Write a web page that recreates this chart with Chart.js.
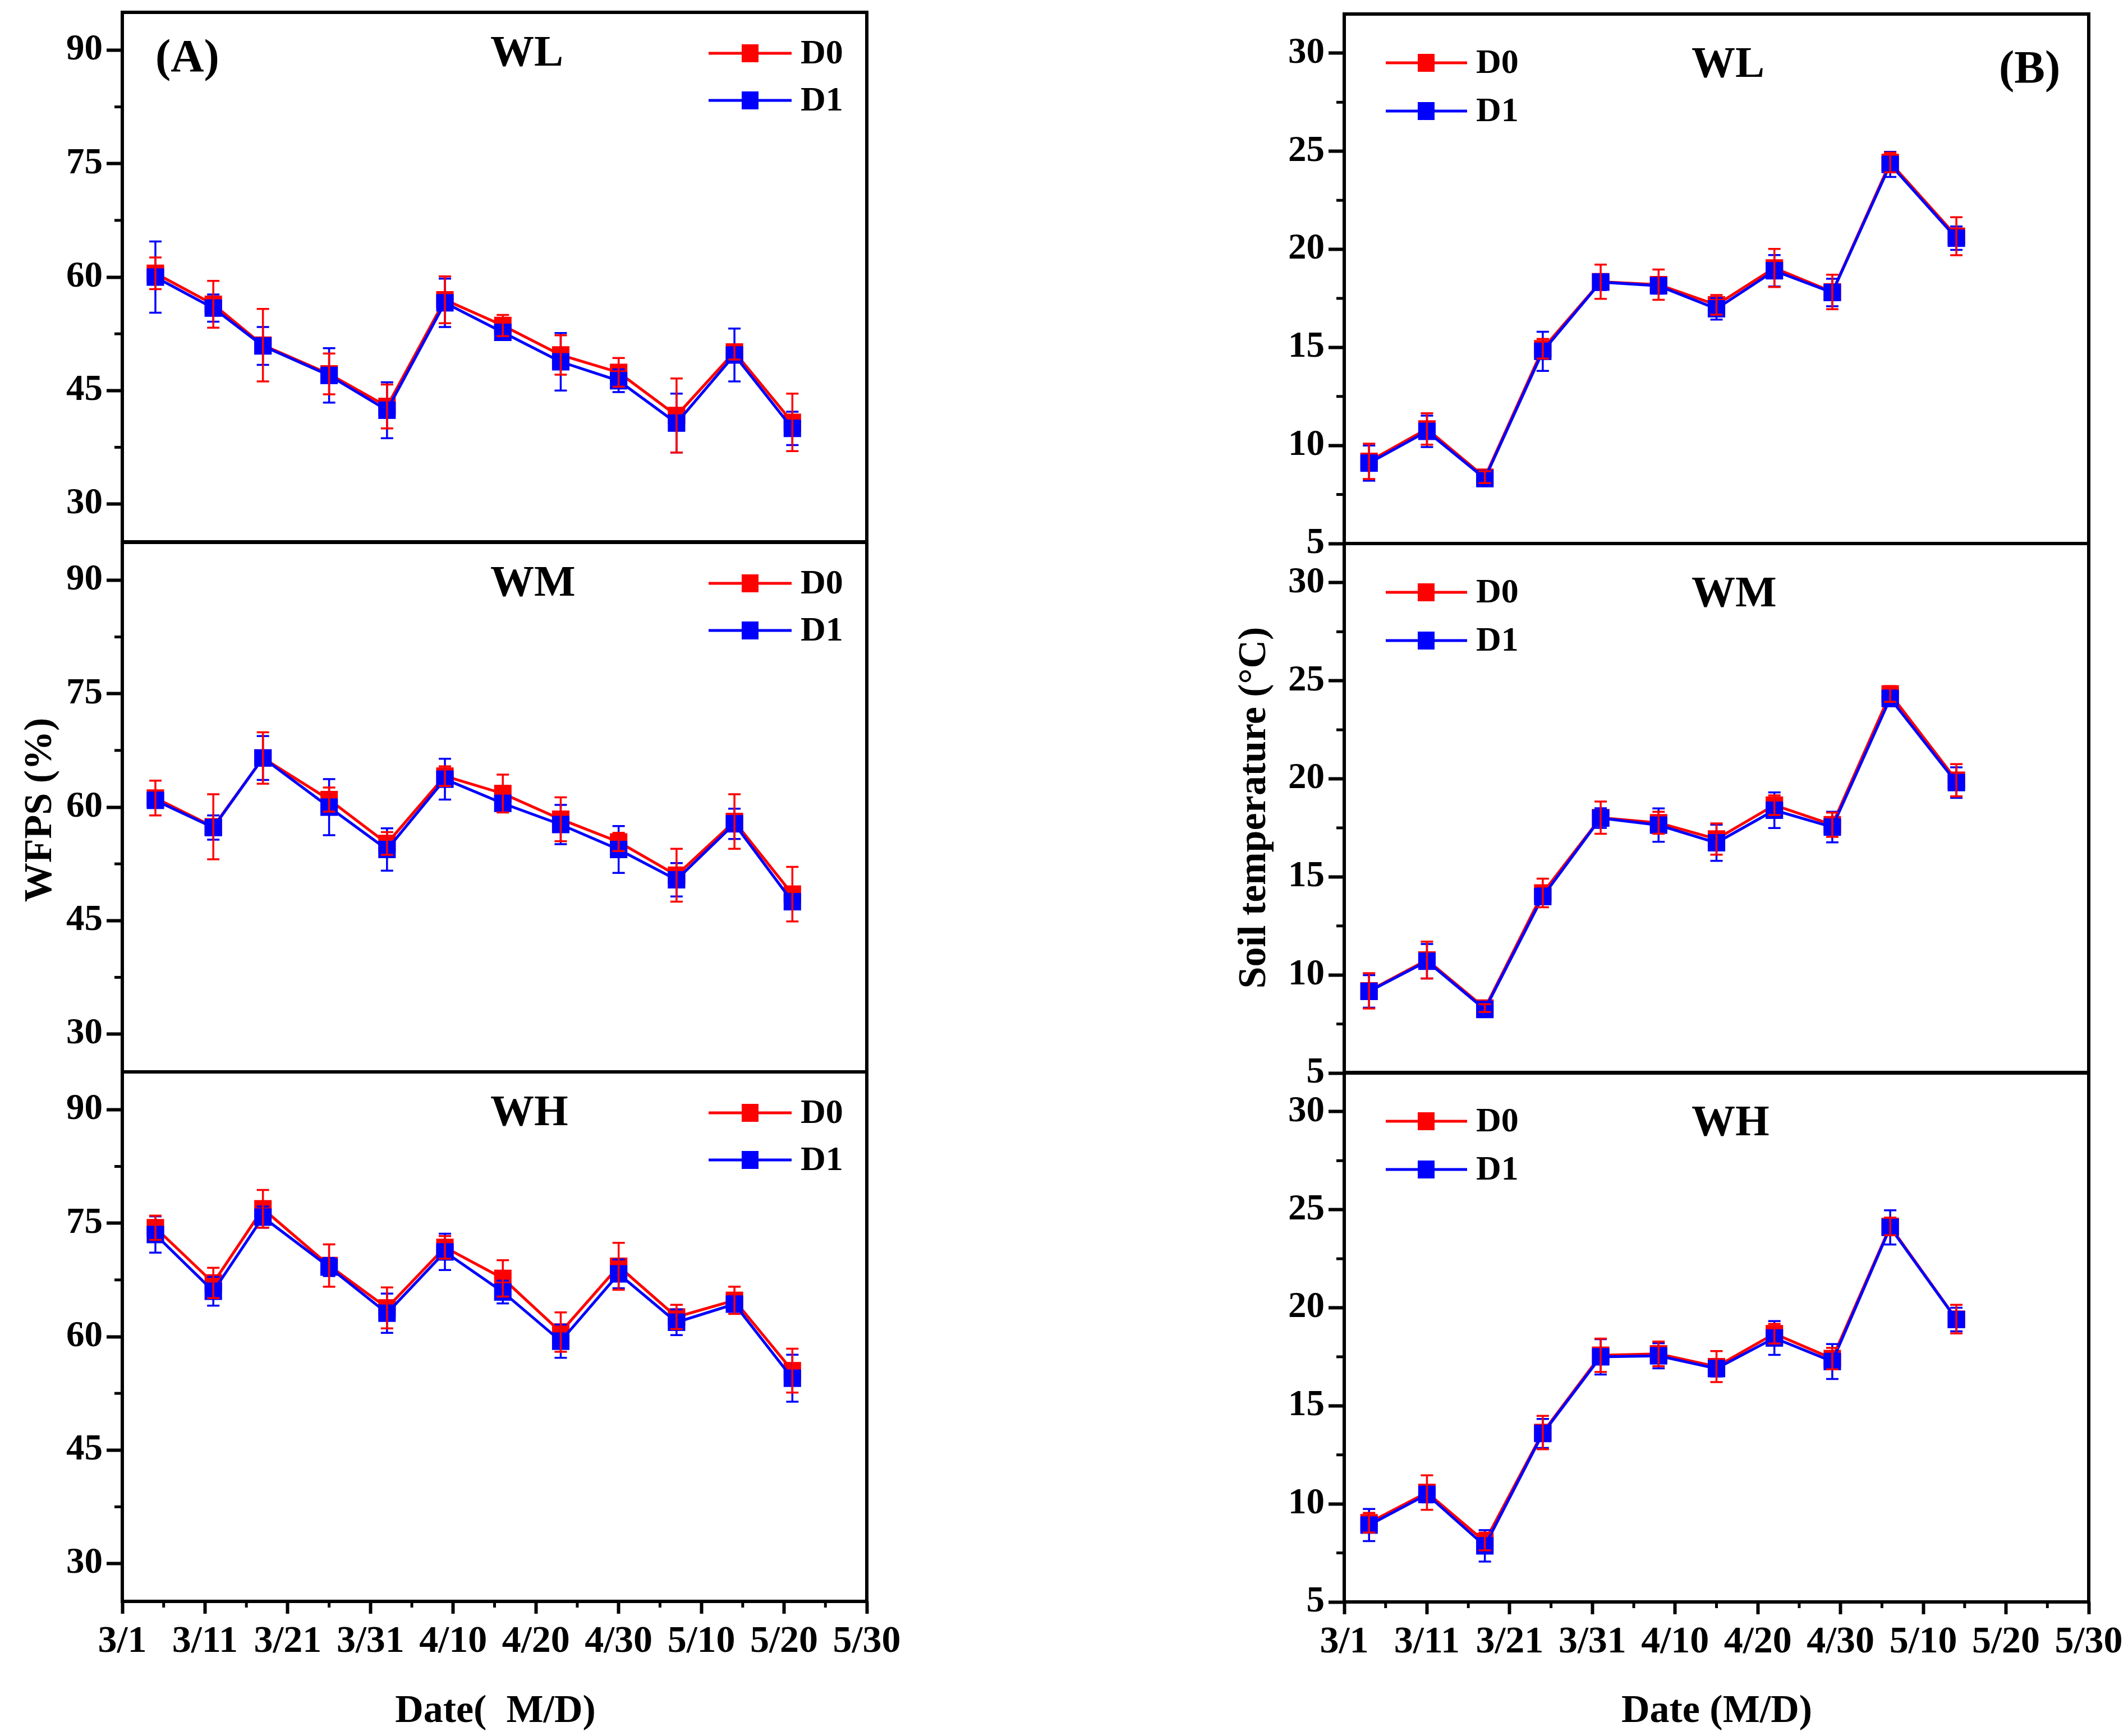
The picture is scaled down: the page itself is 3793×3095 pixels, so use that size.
<!DOCTYPE html>
<html lang="en">
<head>
  <meta charset="UTF-8" />
  <title>WFPS and soil temperature</title>
  <script src="https://cdn.jsdelivr.net/npm/chart.js"></script>
  <style>
    body { margin: 0; background: #fff; }
    #page {
      position: relative;
      width: 3793px;
      height: 3095px;
      overflow: hidden;
      background: #fff;
      font-family: 'Liberation Serif', 'Times New Roman', serif;
      font-weight: bold;
      color: #000;
    }
    canvas { position: absolute; }
    .label {
      position: absolute;
      white-space: pre;
      font-size: 70px;
      line-height: 1;
      transform: translate(-50%, -50%);
    }
    .vlabel { transform: translate(-50%, -50%) rotate(-90deg); }
  </style>
</head>
<body>
  <div id="page">
    <div class="label vlabel" style="left:68px; top:1444px">WFPS (%)</div>
    <div class="label vlabel" style="left:2232px; top:1440px">Soil temperature (°C)</div>
    <div class="label" style="left:883px; top:3047px">Date(  M/D)</div>
    <div class="label" style="left:3060px; top:3047px">Date (M/D)</div>
  </div>

  <script>
    // x axis: days after 3/1
    const xTickDays = [0, 10, 20, 30, 40, 50, 60, 70, 80, 90];
    const xTickLabels = ['3/1', '3/11', '3/21', '3/31', '4/10', '4/20', '4/30', '5/10', '5/20', '5/30'];
    const wfpsTicks = [30, 45, 60, 75, 90];
    const tempTicks = [5, 10, 15, 20, 25, 30];

    // (A) WFPS sampling days
    const wfpsDays = [4, 11, 17, 25, 32, 39, 46, 53, 60, 67, 74, 81];

    const wfpsWL_D0 = [60.5, 56.4, 51.0, 47.2, 42.9, 57.0, 53.6, 49.7, 47.4, 41.7, 50.1, 40.8];
    const wfpsWL_D0err = [2.1, 3.1, 4.8, 2.7, 2.9, 3.1, 1.4, 2.6, 1.9, 4.9, 1.0, 3.8];
    const wfpsWL_D1 = [60.0, 55.9, 50.9, 47.0, 42.4, 56.6, 52.7, 48.8, 46.3, 40.7, 49.7, 40.0];
    const wfpsWL_D1err = [4.7, 1.8, 2.5, 3.6, 3.7, 3.2, 0.8, 3.8, 1.5, 3.9, 3.5, 2.2];

    const wfpsWM_D0 = [61.2, 57.4, 66.5, 61.0, 55.2, 64.1, 61.8, 58.4, 55.4, 51.0, 58.1, 48.5];
    const wfpsWM_D0err = [2.3, 4.3, 3.4, 1.6, 1.5, 1.3, 2.5, 2.9, 1.2, 3.5, 3.6, 3.6];
    const wfpsWM_D1 = [60.9, 57.3, 66.5, 60.0, 54.4, 63.7, 60.5, 57.7, 54.4, 50.4, 57.8, 47.5];
    const wfpsWM_D1err = [1.0, 1.6, 2.9, 3.7, 2.8, 2.7, 0.5, 2.6, 3.1, 2.2, 2.0, 1.0];

    const wfpsWH_D0 = [74.4, 67.1, 76.9, 69.4, 63.8, 71.8, 67.7, 60.6, 69.3, 62.6, 64.8, 55.5];
    const wfpsWH_D0err = [1.6, 2.0, 2.5, 2.8, 2.7, 1.5, 2.4, 2.6, 3.1, 1.6, 1.8, 2.9];
    const wfpsWH_D1 = [73.5, 66.0, 75.8, 69.2, 63.1, 71.2, 65.9, 59.4, 68.3, 61.9, 64.3, 54.5];
    const wfpsWH_D1err = [2.4, 1.9, 1.4, 1.2, 2.6, 2.4, 1.5, 2.2, 1.9, 1.7, 1.0, 3.1];

    // (B) soil temperature sampling days
    const tempDays = [3, 10, 17, 24, 31, 38, 45, 52, 59, 66, 74];

    const tempWL_D0 = [9.19, 10.84, 8.38, 14.93, 18.35, 18.2, 17.17, 19.05, 17.83, 24.43, 20.67];
    const tempWL_D0err = [0.9, 0.8, 0.3, 0.5, 0.87, 0.77, 0.5, 0.97, 0.88, 0.5, 0.97];
    const tempWL_D1 = [9.1, 10.72, 8.31, 14.8, 18.33, 18.14, 16.97, 18.91, 17.8, 24.33, 20.57];
    const tempWL_D1err = [0.9, 0.8, 0.3, 1.0, 0.4, 0.4, 0.55, 0.8, 0.7, 0.64, 0.6];

    const tempWM_D0 = [9.19, 10.76, 8.31, 14.18, 18.02, 17.76, 16.93, 18.66, 17.66, 24.33, 19.93];
    const tempWM_D0err = [0.9, 0.94, 0.2, 0.73, 0.82, 0.56, 0.8, 0.5, 0.62, 0.4, 0.82];
    const tempWM_D1 = [9.16, 10.7, 8.24, 14.0, 18.0, 17.64, 16.74, 18.4, 17.54, 24.1, 19.81];
    const tempWM_D1err = [0.83, 0.88, 0.2, 0.4, 0.5, 0.85, 0.92, 0.91, 0.78, 0.4, 0.78];

    const tempWH_D0 = [9.04, 10.58, 8.08, 13.64, 17.58, 17.65, 17.0, 18.68, 17.41, 24.15, 19.42];
    const tempWH_D0err = [0.5, 0.88, 0.45, 0.85, 0.85, 0.63, 0.79, 0.5, 0.55, 0.45, 0.73];
    const tempWH_D1 = [8.92, 10.48, 7.86, 13.59, 17.5, 17.55, 16.9, 18.46, 17.26, 24.1, 19.4];
    const tempWH_D1err = [0.82, 0.4, 0.8, 0.74, 0.9, 0.64, 0.4, 0.86, 0.89, 0.87, 0.6];

    const FONT = "'Liberation Serif', 'Times New Roman', serif";
    const RED = '#ff0000';
    const BLUE = '#0000ff';
    const FRAME_H = 944;
    const AXIS_W = 200;
    const PAD_R = 100;
    const PAD_T = 60;
    const PAD_B = 60;
    const X_AXIS_H = 170;

    const columns = {
      A: {
        left: 218, right: 1545, tops: [22, 967, 1911],
        yMin: 25, yMax: 95, yTicks: wfpsTicks,
        titleX: 656, titleY: 75,
        tag: '(A)', tagX: 59, tagY: 84,
        legLine: [1045, 1193], legSq: 1119, legText: 1209, legY: [73, 157]
      },
      B: {
        left: 2396, right: 3723, tops: [25, 969, 1912],
        yMin: 5, yMax: 32, yTicks: tempTicks,
        titleX: 619, titleY: 92,
        tag: '(B)', tagX: 1167, tagY: 101,
        legLine: [74, 219], legSq: 146, legText: 235, legY: [87, 173]
      }
    };

    const page = document.getElementById('page');

    function halfSteps(ticks, min, max) {
      const step = ticks[1] - ticks[0];
      const out = [];
      ticks.concat([ticks[0] - step]).forEach(v => {
        const m = v + step / 2;
        if (m > min && m < max) out.push(m);
      });
      return out;
    }

    const errorBars = {
      id: 'errorBars',
      afterDatasetsDraw(chart) {
        const ctx = chart.ctx;
        const ys = chart.scales.y;
        // blue first, red on top
        [1, 0].forEach(di => {
          const ds = chart.data.datasets[di];
          const meta = chart.getDatasetMeta(di);
          ctx.save();
          ctx.strokeStyle = ds.borderColor;
          ctx.lineWidth = 3.5;
          meta.data.forEach((pt, i) => {
            const v = ds.data[i].y;
            const e = ds.errors[i];
            const y1 = ys.getPixelForValue(v + e);
            const y2 = ys.getPixelForValue(v - e);
            ctx.beginPath();
            ctx.moveTo(pt.x, y1);
            ctx.lineTo(pt.x, y2);
            ctx.moveTo(pt.x - 11, y1);
            ctx.lineTo(pt.x + 11, y1);
            ctx.moveTo(pt.x - 11, y2);
            ctx.lineTo(pt.x + 11, y2);
            ctx.stroke();
          });
          ctx.restore();
        });
      }
    };

    const panelDecor = {
      id: 'panelDecor',
      afterDraw(chart, args, opts) {
        const ctx = chart.ctx;
        const a = chart.chartArea;
        const c = opts.col;
        ctx.save();

        // frame
        ctx.strokeStyle = '#000';
        ctx.lineWidth = 6;
        ctx.strokeRect(a.left, a.top, a.right - a.left, a.bottom - a.top);

        // minor ticks
        ctx.lineWidth = 5;
        const ys = chart.scales.y;
        halfSteps(c.yTicks, c.yMin, c.yMax).forEach(v => {
          const y = ys.getPixelForValue(v);
          ctx.beginPath();
          ctx.moveTo(a.left - 14, y);
          ctx.lineTo(a.left, y);
          ctx.stroke();
        });
        if (opts.bottom) {
          const xs = chart.scales.x;
          halfSteps(xTickDays, 0, 90).forEach(v => {
            const x = xs.getPixelForValue(v);
            ctx.beginPath();
            ctx.moveTo(x, a.bottom);
            ctx.lineTo(x, a.bottom + 11);
            ctx.stroke();
          });
        }

        // title and tag
        ctx.fillStyle = '#000';
        ctx.textBaseline = 'middle';
        ctx.textAlign = 'left';
        ctx.font = 'bold 78px ' + FONT;
        ctx.fillText(opts.title, a.left + c.titleX, a.top + c.titleY);
        if (opts.showTag) {
          ctx.font = 'bold 82px ' + FONT;
          ctx.fillText(c.tag, a.left + c.tagX, a.top + c.tagY);
        }

        // legend
        const series = [['D0', RED], ['D1', BLUE]];
        series.forEach((s, i) => {
          const y = a.top + c.legY[i];
          ctx.strokeStyle = s[1];
          ctx.lineWidth = 5;
          ctx.beginPath();
          ctx.moveTo(a.left + c.legLine[0], y);
          ctx.lineTo(a.left + c.legLine[1], y);
          ctx.stroke();
          ctx.fillStyle = s[1];
          ctx.fillRect(a.left + c.legSq - 15, y - 16, 30, 32);
          ctx.fillStyle = '#000';
          ctx.font = 'bold 62px ' + FONT;
          ctx.fillText(s[0], a.left + c.legText, y + 2);
        });
        ctx.restore();
      }
    };

    function series(label, color, days, values, errors, order) {
      return {
        label: label,
        data: days.map((d, i) => ({ x: d, y: values[i] })),
        errors: errors,
        borderColor: color,
        backgroundColor: color,
        borderWidth: 5,
        pointStyle: 'rect',
        pointRadius: 22,
        pointHoverRadius: 22,
        pointBorderWidth: 0,
        pointBackgroundColor: color,
        tension: 0,
        order: order,
        clip: false
      };
    }

    function makePanel(colKey, row, title, days, d0, e0, d1, e1) {
      const c = columns[colKey];
      const bottom = row === 2;
      const w = AXIS_W + (c.right - c.left) + PAD_R;
      const h = PAD_T + FRAME_H + (bottom ? X_AXIS_H : PAD_B);

      const canvas = document.createElement('canvas');
      canvas.width = w;
      canvas.height = h;
      canvas.style.width = w + 'px';
      canvas.style.height = h + 'px';
      canvas.style.left = (c.left - AXIS_W) + 'px';
      canvas.style.top = (c.tops[row] - PAD_T) + 'px';
      page.appendChild(canvas);

      new Chart(canvas.getContext('2d'), {
        type: 'line',
        data: {
          datasets: [
            series('D0', RED, days, d0, e0, 2),
            series('D1', BLUE, days, d1, e1, 1)
          ]
        },
        options: {
          responsive: false,
          animation: false,
          devicePixelRatio: 1,
          layout: {
            autoPadding: false,
            padding: { left: 0, right: PAD_R, top: PAD_T, bottom: bottom ? 0 : PAD_B }
          },
          scales: {
            x: {
              type: 'linear',
              min: 0,
              max: 90,
              display: bottom,
              afterBuildTicks: s => { s.ticks = xTickDays.map(v => ({ value: v })); },
              afterFit: s => { s.height = bottom ? X_AXIS_H : 0; },
              grid: { drawOnChartArea: false, drawTicks: true, tickLength: 22, tickWidth: 6, tickColor: '#000' },
              border: { display: false },
              ticks: {
                callback: v => xTickLabels[xTickDays.indexOf(v)],
                font: { family: FONT, size: 68, weight: 'bold' },
                color: '#000',
                padding: 10,
                maxRotation: 0,
                autoSkip: false
              }
            },
            y: {
              type: 'linear',
              min: c.yMin,
              max: c.yMax,
              afterBuildTicks: s => { s.ticks = c.yTicks.map(v => ({ value: v })); },
              afterFit: s => { s.width = AXIS_W; },
              grid: { drawOnChartArea: false, drawTicks: true, tickLength: 28, tickWidth: 6, tickColor: '#000' },
              border: { display: false },
              ticks: { font: { family: FONT, size: 65, weight: 'bold' }, color: '#000', padding: 7 }
            }
          },
          plugins: {
            legend: { display: false },
            tooltip: { enabled: false },
            panelDecor: { col: c, title: title, bottom: bottom, showTag: row === 0 }
          }
        },
        plugins: [errorBars, panelDecor]
      });
    }

    makePanel('A', 0, 'WL', wfpsDays, wfpsWL_D0, wfpsWL_D0err, wfpsWL_D1, wfpsWL_D1err);
    makePanel('A', 1, 'WM', wfpsDays, wfpsWM_D0, wfpsWM_D0err, wfpsWM_D1, wfpsWM_D1err);
    makePanel('A', 2, 'WH', wfpsDays, wfpsWH_D0, wfpsWH_D0err, wfpsWH_D1, wfpsWH_D1err);

    makePanel('B', 0, 'WL', tempDays, tempWL_D0, tempWL_D0err, tempWL_D1, tempWL_D1err);
    makePanel('B', 1, 'WM', tempDays, tempWM_D0, tempWM_D0err, tempWM_D1, tempWM_D1err);
    makePanel('B', 2, 'WH', tempDays, tempWH_D0, tempWH_D0err, tempWH_D1, tempWH_D1err);
  </script>
</body>
</html>
